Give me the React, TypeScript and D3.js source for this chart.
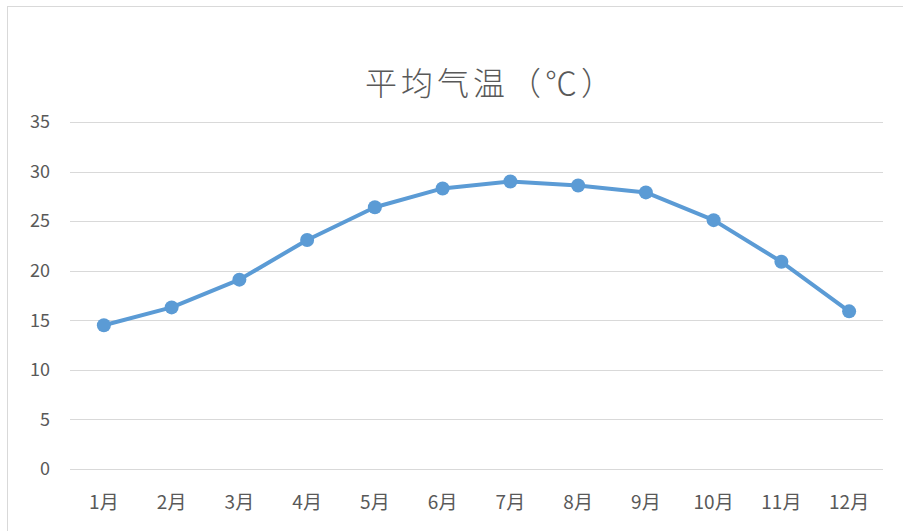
import * as d3 from "d3"
import { useEffect, useRef } from "react"

const months = ["1月", "2月", "3月", "4月", "5月", "6月", "7月", "8月", "9月", "10月", "11月", "12月"]
const temps = [14.5, 16.3, 19.1, 23.1, 26.4, 28.3, 29.0, 28.6, 27.9, 25.1, 20.9, 15.9]
const yTicks = [0, 5, 10, 15, 20, 25, 30, 35]
const title = "平均气温（℃）"

const W = 903
const H = 531

export default function App() {
  const svgRef = useRef<SVGSVGElement | null>(null)

  useEffect(() => {
    if (!svgRef.current) return
    const svg = d3.select(svgRef.current)
    svg.selectAll("*").remove()

    const font = "'Noto Sans CJK SC', 'Noto Sans', sans-serif"
    const textColor = "#595959"

    // chart frame (cut off by window on right/bottom)
    svg
      .append("rect")
      .attr("x", 7.5)
      .attr("y", 6.5)
      .attr("width", W + 20)
      .attr("height", H + 20)
      .attr("fill", "#fff")
      .attr("stroke", "#d9d9d9")
      .attr("stroke-width", 1)

    const x = d3.scaleBand().domain(months).range([70, 883])
    const y = d3.scaleLinear().domain([0, 35]).range([469, 122])

    // gridlines
    svg
      .append("g")
      .selectAll("line")
      .data(yTicks)
      .enter()
      .append("line")
      .attr("x1", 70)
      .attr("x2", 883)
      .attr("y1", (d) => Math.round(y(d)) + 0.5)
      .attr("y2", (d) => Math.round(y(d)) + 0.5)
      .attr("stroke", "#d9d9d9")
      .attr("stroke-width", 1)

    // y labels
    svg
      .append("g")
      .selectAll("text")
      .data(yTicks)
      .enter()
      .append("text")
      .attr("x", 50)
      .attr("y", (d) => y(d))
      .attr("dy", "0.35em")
      .attr("text-anchor", "end")
      .attr("fill", textColor)
      .style("font", `18px ${font}`)
      .text((d) => d)

    // x labels
    svg
      .append("g")
      .selectAll("text")
      .data(months)
      .enter()
      .append("text")
      .attr("x", (d) => x(d)! + x.bandwidth() / 2)
      .attr("y", 509)
      .attr("text-anchor", "middle")
      .attr("fill", textColor)
      .style("font", `19px ${font}`)
      .text((d) => d)

    // line
    const line = d3
      .line<number>()
      .x((_, i) => x(months[i])! + x.bandwidth() / 2)
      .y((d) => y(d))

    svg
      .append("path")
      .datum(temps)
      .attr("d", line)
      .attr("fill", "none")
      .attr("stroke", "#5b9bd5")
      .attr("stroke-width", 4)
      .attr("stroke-linejoin", "round")
      .attr("stroke-linecap", "round")

    svg
      .append("g")
      .selectAll("circle")
      .data(temps)
      .enter()
      .append("circle")
      .attr("cx", (_, i) => x(months[i])! + x.bandwidth() / 2)
      .attr("cy", (d) => y(d))
      .attr("r", 7)
      .attr("fill", "#5b9bd5")

    // title
    svg
      .append("text")
      .attr("x", 491)
      .attr("y", 95)
      .attr("text-anchor", "middle")
      .attr("fill", textColor)
      .style("font", `300 32px ${font}`)
      .style("letter-spacing", "4px")
      .text(title)
  }, [])

  return (
    <svg
      ref={svgRef}
      width={W}
      height={H}
      style={{ position: "absolute", left: 0, top: 0, display: "block", background: "#fff" }}
    />
  )
}
